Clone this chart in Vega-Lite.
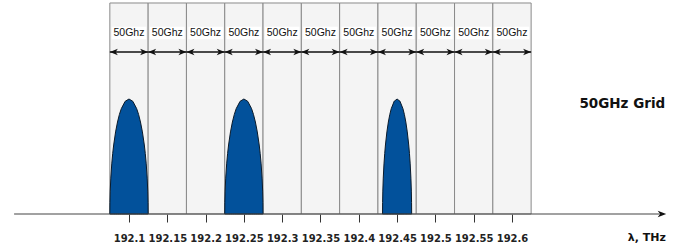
{
  "$schema": "https://vega.github.io/schema/vega-lite/v6.json",
  "width": 673,
  "height": 249,
  "autosize": "none",
  "padding": 0,
  "background": "white",
  "config": {"view": {"stroke": null}},
  "datasets": {
    "cells": [
      {"start": 192.075, "end": 192.125, "mid": 192.1, "label": "50Ghz"},
      {"start": 192.125, "end": 192.175, "mid": 192.15, "label": "50Ghz"},
      {"start": 192.175, "end": 192.225, "mid": 192.2, "label": "50Ghz"},
      {"start": 192.225, "end": 192.275, "mid": 192.25, "label": "50Ghz"},
      {"start": 192.275, "end": 192.325, "mid": 192.3, "label": "50Ghz"},
      {"start": 192.325, "end": 192.375, "mid": 192.35, "label": "50Ghz"},
      {"start": 192.375, "end": 192.425, "mid": 192.4, "label": "50Ghz"},
      {"start": 192.425, "end": 192.475, "mid": 192.45, "label": "50Ghz"},
      {"start": 192.475, "end": 192.525, "mid": 192.5, "label": "50Ghz"},
      {"start": 192.525, "end": 192.575, "mid": 192.55, "label": "50Ghz"},
      {"start": 192.575, "end": 192.625, "mid": 192.6, "label": "50Ghz"}
    ],
    "signals": [
      {"s": 1, "f": 192.075, "p": 0},
      {"s": 1, "f": 192.07512, "p": 0.0544},
      {"s": 1, "f": 192.0755, "p": 0.1085},
      {"s": 1, "f": 192.07625, "p": 0.170},
      {"s": 1, "f": 192.0775, "p": 0.2376},
      {"s": 1, "f": 192.07875, "p": 0.287},
      {"s": 1, "f": 192.08, "p": 0.327},
      {"s": 1, "f": 192.0825, "p": 0.389},
      {"s": 1, "f": 192.085, "p": 0.436},
      {"s": 1, "f": 192.0875, "p": 0.472},
      {"s": 1, "f": 192.09, "p": 0.4995},
      {"s": 1, "f": 192.095, "p": 0.534},
      {"s": 1, "f": 192.1, "p": 0.545},
      {"s": 1, "f": 192.105, "p": 0.534},
      {"s": 1, "f": 192.11, "p": 0.4995},
      {"s": 1, "f": 192.1125, "p": 0.472},
      {"s": 1, "f": 192.115, "p": 0.436},
      {"s": 1, "f": 192.1175, "p": 0.389},
      {"s": 1, "f": 192.12, "p": 0.327},
      {"s": 1, "f": 192.12125, "p": 0.287},
      {"s": 1, "f": 192.1225, "p": 0.2376},
      {"s": 1, "f": 192.12375, "p": 0.170},
      {"s": 1, "f": 192.1245, "p": 0.1085},
      {"s": 1, "f": 192.12488, "p": 0.0544},
      {"s": 1, "f": 192.125, "p": 0},
      {"s": 2, "f": 192.225, "p": 0},
      {"s": 2, "f": 192.22512, "p": 0.0544},
      {"s": 2, "f": 192.2255, "p": 0.1085},
      {"s": 2, "f": 192.22625, "p": 0.170},
      {"s": 2, "f": 192.2275, "p": 0.2376},
      {"s": 2, "f": 192.22875, "p": 0.287},
      {"s": 2, "f": 192.23, "p": 0.327},
      {"s": 2, "f": 192.2325, "p": 0.389},
      {"s": 2, "f": 192.235, "p": 0.436},
      {"s": 2, "f": 192.2375, "p": 0.472},
      {"s": 2, "f": 192.24, "p": 0.4995},
      {"s": 2, "f": 192.245, "p": 0.534},
      {"s": 2, "f": 192.25, "p": 0.545},
      {"s": 2, "f": 192.255, "p": 0.534},
      {"s": 2, "f": 192.26, "p": 0.4995},
      {"s": 2, "f": 192.2625, "p": 0.472},
      {"s": 2, "f": 192.265, "p": 0.436},
      {"s": 2, "f": 192.2675, "p": 0.389},
      {"s": 2, "f": 192.27, "p": 0.327},
      {"s": 2, "f": 192.27125, "p": 0.287},
      {"s": 2, "f": 192.2725, "p": 0.2376},
      {"s": 2, "f": 192.27375, "p": 0.170},
      {"s": 2, "f": 192.2745, "p": 0.1085},
      {"s": 2, "f": 192.27488, "p": 0.0544},
      {"s": 2, "f": 192.275, "p": 0},
      {"s": 3, "f": 192.431, "p": 0},
      {"s": 3, "f": 192.4311, "p": 0.0544},
      {"s": 3, "f": 192.43138, "p": 0.1085},
      {"s": 3, "f": 192.43195, "p": 0.170},
      {"s": 3, "f": 192.4329, "p": 0.2376},
      {"s": 3, "f": 192.43385, "p": 0.287},
      {"s": 3, "f": 192.4348, "p": 0.327},
      {"s": 3, "f": 192.4367, "p": 0.389},
      {"s": 3, "f": 192.4386, "p": 0.436},
      {"s": 3, "f": 192.4405, "p": 0.472},
      {"s": 3, "f": 192.4424, "p": 0.4995},
      {"s": 3, "f": 192.4462, "p": 0.534},
      {"s": 3, "f": 192.45, "p": 0.545},
      {"s": 3, "f": 192.4538, "p": 0.534},
      {"s": 3, "f": 192.4576, "p": 0.4995},
      {"s": 3, "f": 192.4595, "p": 0.472},
      {"s": 3, "f": 192.4614, "p": 0.436},
      {"s": 3, "f": 192.4633, "p": 0.389},
      {"s": 3, "f": 192.4652, "p": 0.327},
      {"s": 3, "f": 192.46615, "p": 0.287},
      {"s": 3, "f": 192.4671, "p": 0.2376},
      {"s": 3, "f": 192.46805, "p": 0.170},
      {"s": 3, "f": 192.46862, "p": 0.1085},
      {"s": 3, "f": 192.4689, "p": 0.0544},
      {"s": 3, "f": 192.469, "p": 0}
    ],
    "axisline": [{"from": 191.95, "to": 192.793, "head": 192.7958, "level": 0}],
    "notes": [
      {"f": 192.744, "v": 0.521, "text": "50GHz Grid", "kind": "title"},
      {"f": 192.776, "v": -0.1137, "text": "λ, THz", "kind": "unit"}
    ]
  },
  "layer": [
    {
      "data": {"name": "cells"},
      "mark": {"type": "rect", "fill": "#f4f4f4", "stroke": "#8a8a8a", "strokeWidth": 1},
      "encoding": {
        "x": {
          "field": "start", "type": "quantitative",
          "scale": {"domain": [191.9316, 192.8102], "nice": false, "zero": false},
          "axis": {
            "values": [192.1, 192.15, 192.2, 192.25, 192.3, 192.35, 192.4, 192.45, 192.5, 192.55, 192.6],
            "format": ".2~f",
            "title": null,
            "domain": false,
            "grid": false,
            "offset": -35,
            "ticks": true,
            "labels": true,
            "tickSize": 8,
            "tickColor": "#333",
            "tickWidth": 1,
            "labelPadding": 11,
            "labelFont": "DejaVu Sans",
            "labelFontWeight": "bold",
            "labelFontSize": 10,
            "labelColor": "#222",
            "labelOverlap": false,
            "labelFlush": false
          }
        },
        "x2": {"field": "end"},
        "y": {"datum": 0, "type": "quantitative", "scale": {"domain": [-0.1659, 1.0142], "nice": false, "zero": false}, "axis": null},
        "y2": {"datum": 1}
      }
    },
    {
      "data": {"name": "cells"},
      "mark": {"type": "point", "filled": true, "fill": "white", "opacity": 1, "strokeWidth": 0, "shape": "M -1 -0.36 L 1 -0.36 L 1 0.36 L -1 0.36 Z", "size": 1190},
      "encoding": {
        "x": {"field": "mid", "type": "quantitative"},
        "y": {"datum": 0.858, "type": "quantitative"}
      }
    },
    {
      "data": {"name": "cells"},
      "mark": {"type": "text", "font": "Liberation Sans", "fontSize": 10.5, "color": "#111", "align": "center", "baseline": "middle"},
      "encoding": {
        "x": {"field": "mid", "type": "quantitative"},
        "y": {"datum": 0.858, "type": "quantitative"},
        "text": {"field": "label"}
      }
    },
    {
      "data": {"name": "cells"},
      "mark": {"type": "rule", "color": "#111", "strokeWidth": 1.4},
      "encoding": {
        "x": {"field": "start", "type": "quantitative"},
        "x2": {"field": "end"},
        "y": {"datum": 0.7678, "type": "quantitative"}
      }
    },
    {
      "data": {"name": "cells"},
      "mark": {"type": "point", "filled": true, "color": "#111", "opacity": 1, "shape": "M -1 0 L 1 -0.8 L 0.45 0 L 1 0.8 Z", "size": 64, "xOffset": 4},
      "encoding": {
        "x": {"field": "start", "type": "quantitative"},
        "y": {"datum": 0.7678, "type": "quantitative"}
      }
    },
    {
      "data": {"name": "cells"},
      "mark": {"type": "point", "filled": true, "color": "#111", "opacity": 1, "shape": "M 1 0 L -1 -0.8 L -0.45 0 L -1 0.8 Z", "size": 64, "xOffset": -4},
      "encoding": {
        "x": {"field": "end", "type": "quantitative"},
        "y": {"datum": 0.7678, "type": "quantitative"}
      }
    },
    {
      "data": {"name": "signals"},
      "mark": {"type": "area", "fill": "#02519b", "stroke": "#0a1a2a", "strokeWidth": 1, "interpolate": "linear", "opacity": 1},
      "encoding": {
        "x": {"field": "f", "type": "quantitative"},
        "y": {"field": "p", "type": "quantitative"},
        "y2": {"datum": 0},
        "detail": {"field": "s"}
      }
    },
    {
      "data": {"name": "axisline"},
      "mark": {"type": "rule", "color": "#444", "strokeWidth": 1.2},
      "encoding": {
        "x": {"field": "from", "type": "quantitative"},
        "x2": {"field": "to"},
        "y": {"field": "level", "type": "quantitative"}
      }
    },
    {
      "data": {"name": "axisline"},
      "mark": {"type": "point", "filled": true, "color": "#111", "opacity": 1, "shape": "M 1 0 L -1 -0.75 L -0.45 0 L -1 0.75 Z", "size": 72},
      "encoding": {
        "x": {"field": "head", "type": "quantitative"},
        "y": {"field": "level", "type": "quantitative"}
      }
    },
    {
      "data": {"name": "notes"},
      "transform": [{"filter": "datum.kind == 'title'"}],
      "mark": {"type": "text", "font": "DejaVu Sans", "fontWeight": "bold", "fontSize": 13.5, "color": "#111", "align": "center", "baseline": "middle"},
      "encoding": {
        "x": {"field": "f", "type": "quantitative"},
        "y": {"field": "v", "type": "quantitative"},
        "text": {"field": "text"}
      }
    },
    {
      "data": {"name": "notes"},
      "transform": [{"filter": "datum.kind == 'unit'"}],
      "mark": {"type": "text", "font": "DejaVu Sans", "fontWeight": "bold", "fontSize": 11, "color": "#111", "align": "center", "baseline": "middle"},
      "encoding": {
        "x": {"field": "f", "type": "quantitative"},
        "y": {"field": "v", "type": "quantitative"},
        "text": {"field": "text"}
      }
    }
  ]
}
